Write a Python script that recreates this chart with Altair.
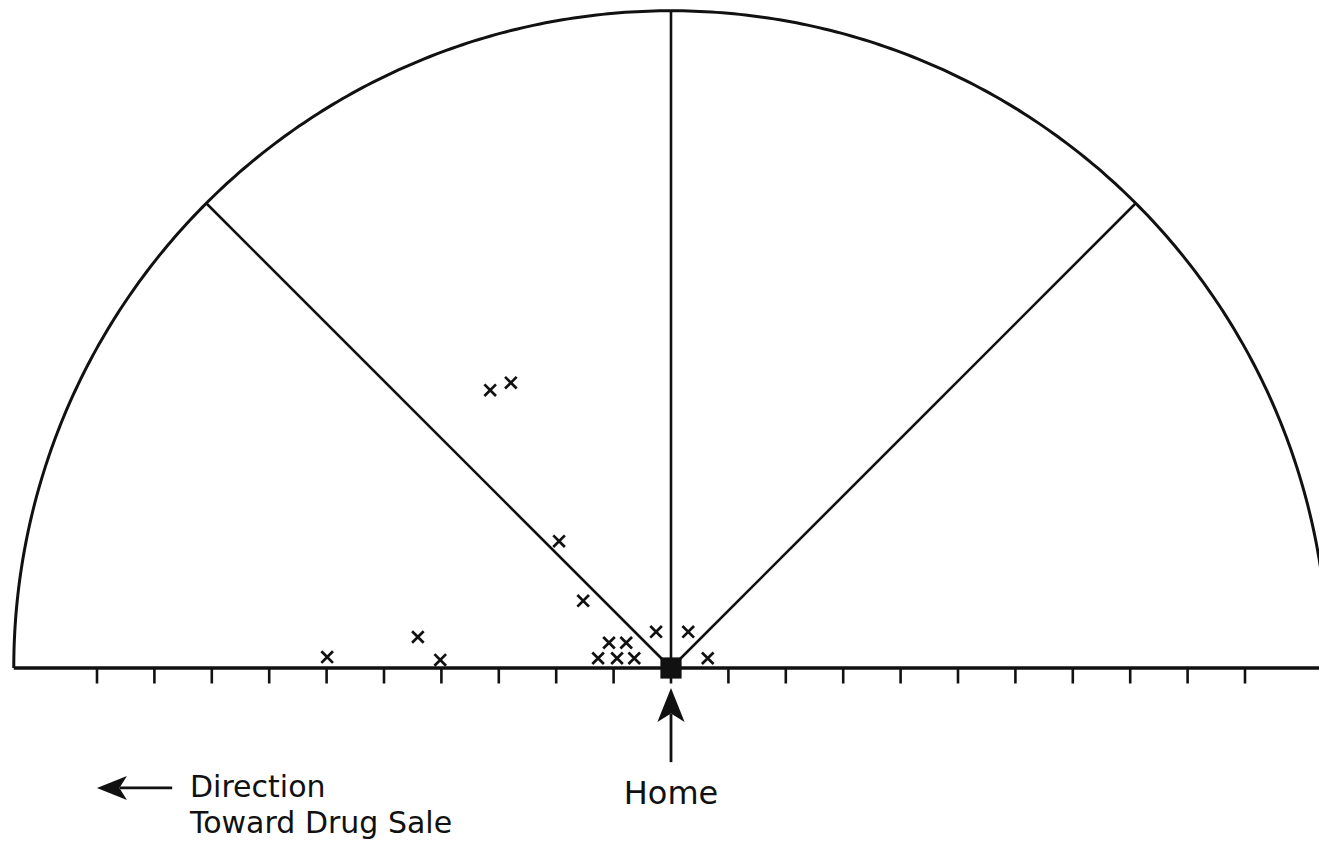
import altair as alt
import numpy as np
import pandas as pd

# ---- data (units = one tick spacing, origin = Home) ----
cross_x = [-5.99, -4.41, -4.02, -3.15, -2.79, -1.95, -1.53, -1.27, -1.08, -0.94, -0.78, -0.64, -0.26, 0.30, 0.64]
cross_y = [0.19, 0.54, 0.14, 4.84, 4.97, 2.21, 1.17, 0.17, 0.44, 0.17, 0.44, 0.17, 0.63, 0.63, 0.17]
tick_positions = list(range(-10, 11))
sector_angles = [45, 90, 135]
radius = 11.45
tick_len = 0.27

label_text = ["Home", "Direction", "Toward Drug Sale"]
label_x = [0.0, -8.38, -8.38]
label_y = [-2.37, -2.25, -2.875]
label_align = ["center", "left", "left"]
label_size = [32, 30, 30]

# ---- layout ----
W, H = 1311, 832
unit = 57.4
cx, cy = 671, 668  # page position of Home
x_dom = [(8 - cx) / unit, (8 + W - cx) / unit]
y_dom = [(cy - 8 - H) / unit, (cy - 8) / unit]

xs = alt.Scale(domain=x_dom, nice=False, zero=False)
ys = alt.Scale(domain=y_dom, nice=False, zero=False)
INK = "#111111"

# arc (semicircle frame)
ang = np.linspace(0, np.pi, 361)
arc_df = pd.DataFrame({"x": radius * np.cos(ang), "y": radius * np.sin(ang), "o": np.arange(len(ang))})
arc = alt.Chart(arc_df).mark_line(color=INK, strokeWidth=3).encode(
    x=alt.X("x:Q", scale=xs, axis=None), y=alt.Y("y:Q", scale=ys, axis=None), order="o:Q")

# baseline
base_df = pd.DataFrame({"x": [-radius], "x2": [radius], "y": [0.0]})
base = alt.Chart(base_df).mark_rule(color=INK, strokeWidth=3.4).encode(
    x=alt.X("x:Q", scale=xs, axis=None), x2="x2:Q", y=alt.Y("y:Q", scale=ys, axis=None))

# sector lines
sec_df = pd.DataFrame({
    "x": [0.0] * len(sector_angles), "y": [0.0] * len(sector_angles),
    "x2": [radius * np.cos(np.radians(a)) for a in sector_angles],
    "y2": [radius * np.sin(np.radians(a)) for a in sector_angles],
})
sectors = alt.Chart(sec_df).mark_rule(color=INK, strokeWidth=2.6).encode(
    x=alt.X("x:Q", scale=xs, axis=None), y=alt.Y("y:Q", scale=ys, axis=None), x2="x2:Q", y2="y2:Q")

# ticks
tick_df = pd.DataFrame({"x": tick_positions, "y": [0.0] * len(tick_positions), "y2": [-tick_len] * len(tick_positions)})
ticks = alt.Chart(tick_df).mark_rule(color=INK, strokeWidth=2.6).encode(
    x=alt.X("x:Q", scale=xs, axis=None), y=alt.Y("y:Q", scale=ys, axis=None), y2="y2:Q")

# crosses
cross_df = pd.DataFrame({"x": cross_x, "y": cross_y})
crosses = alt.Chart(cross_df).mark_point(
    shape="M-1,-1L1,1M-1,1L1,-1", size=135, filled=False, color=INK, strokeWidth=2.7, opacity=1
).encode(x=alt.X("x:Q", scale=xs, axis=None), y=alt.Y("y:Q", scale=ys, axis=None))

# home square
home_df = pd.DataFrame({"x": [0.0], "y": [0.0]})
home = alt.Chart(home_df).mark_square(size=450, color=INK, opacity=1).encode(
    x=alt.X("x:Q", scale=xs, axis=None), y=alt.Y("y:Q", scale=ys, axis=None))

# arrows
head_path = "M0,-1L0.8,1L0,0.5L-0.8,1Z"
heads_df = pd.DataFrame({"x": [0.0, -9.74], "y": [-0.645, -2.09], "a": [0, 270], "s": [1156, 900]})
heads = alt.Chart(heads_df).mark_point(shape=head_path, filled=True, color=INK, opacity=1, strokeWidth=0).encode(
    x=alt.X("x:Q", scale=xs, axis=None), y=alt.Y("y:Q", scale=ys, axis=None),
    angle=alt.Angle("a:Q", scale=None), size=alt.Size("s:Q", scale=None))
shafts_df = pd.DataFrame({"x": [0.0, -9.60], "x2": [0.0, -8.69], "y": [-0.80, -2.09], "y2": [-1.64, -2.09]})
shafts = alt.Chart(shafts_df).mark_rule(color=INK, strokeWidth=2.8).encode(
    x=alt.X("x:Q", scale=xs, axis=None), y=alt.Y("y:Q", scale=ys, axis=None), x2="x2:Q", y2="y2:Q")

# labels
lab_df = pd.DataFrame({"t": label_text, "x": label_x, "y": label_y, "al": label_align, "fs": label_size})
labs = []
for i in range(len(lab_df)):
    row = lab_df.iloc[[i]]
    labs.append(alt.Chart(row).mark_text(
        align=row.al.iloc[0], baseline="alphabetic", font="DejaVu Sans",
        fontSize=int(row.fs.iloc[0]), color=INK
    ).encode(x=alt.X("x:Q", scale=xs, axis=None), y=alt.Y("y:Q", scale=ys, axis=None), text="t:N"))

chart = alt.layer(arc, sectors, base, ticks, crosses, home, shafts, heads, *labs).properties(
    width=W, height=H, padding=0, autosize=alt.AutoSizeParams(type="none"), background="white"
).configure_view(stroke=None)

chart.save("out.html", embed_options={"renderer": "svg", "actions": False})
